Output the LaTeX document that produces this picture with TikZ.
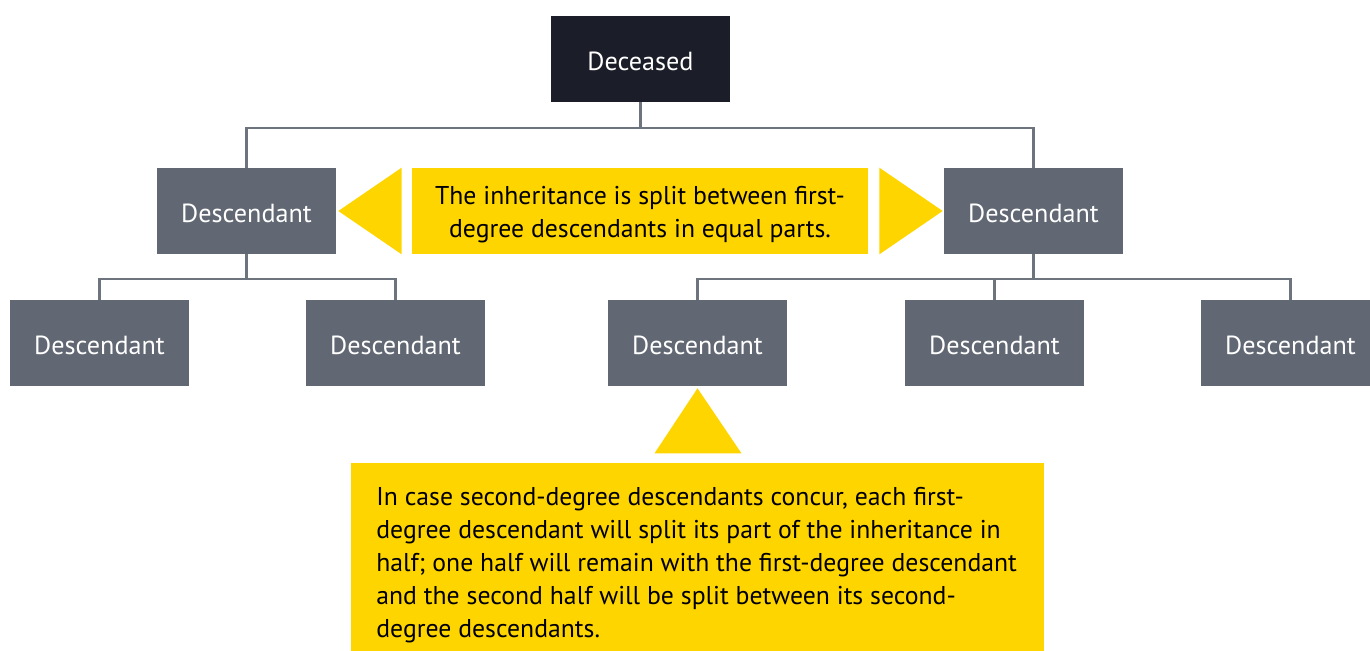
\documentclass[tikz,border=0pt]{standalone}
\usepackage{fontspec}
\setmainfont{PT Sans}
\definecolor{darkbox}{HTML}{1B1E29}
\definecolor{slate}{HTML}{616873}
\definecolor{eyyellow}{HTML}{FFD500}
\definecolor{linec}{HTML}{6E747E}
\begin{document}
\begin{tikzpicture}[x=0.02cm,y=-0.02cm,
  box/.style={fill=slate, text=white, minimum width=3.58cm, minimum height=1.72cm, inner sep=0pt, font=\fontsize{14.9}{18}\selectfont},
  boxtext/.style={text=white, inner sep=0pt, font=\fontsize{14.9}{18}\selectfont},
  conn/.style={draw=linec, line width=1.3pt},
  callout/.style={fill=eyyellow, draw=none, inner sep=0pt},
  calltext/.style={font=\fontsize{14.65}{18.7}\selectfont, text=black, inner sep=0pt}]
\useasboundingbox (0,0) rectangle (1370,651);
\begin{scope}
\clip (0,0) rectangle (1370,651);
% nodes
\node[box, fill=darkbox] (dec) at (640.5,59) {};
\node[box] (l1) at (246.5,211) {};
\node[box] (r1) at (1033.5,211) {};
\node[box] (a) at (99.5,343) {};
\node[box] (b) at (395.5,343) {};
\node[box] (c) at (697.5,343) {};
\node[box] (d) at (994.5,343) {};
\node[box] (e) at (1290.5,343) {};
\node[boxtext] (tdec) at ([yshift=-0.05cm]dec.center) {Deceased};
\node[boxtext] (tl1) at ([yshift=-0.04cm]l1.center) {Descendant};
\node[boxtext] (tr1) at ([yshift=-0.04cm]r1.center) {Descendant};
\node[boxtext] (ta) at ([yshift=-0.05cm]a.center) {Descendant};
\node[boxtext] (tb) at ([yshift=-0.05cm]b.center) {Descendant};
\node[boxtext] (tc) at ([yshift=-0.05cm]c.center) {Descendant};
\node[boxtext] (td) at ([yshift=-0.05cm]d.center) {Descendant};
\node[boxtext] (te) at ([yshift=-0.05cm]e.center) {Descendant};
% connectors
\coordinate (j0) at (640.5,128);
\coordinate (j1) at (246.5,279);
\coordinate (j2) at (1033.5,279);
\draw[conn] (dec.south) -- (j0) -| (l1.north);
\draw[conn] (j0) -| (r1.north);
\draw[conn] (l1.south) -- (j1) -| (a.north);
\draw[conn] (j1) -| (b.north);
\draw[conn] (r1.south) -- (j2) -| (c.north);
\draw[conn] (j2) -| (d.north);
\draw[conn] (j2) -| (e.north);
% top callout
\node[callout, minimum width=9.12cm, minimum height=1.72cm] (msg) at (640,211) {};
\node[calltext, align=center] (msgtext) at ([yshift=-0.07cm]msg.center)
  {The inheritance is split between first-\\degree descendants in equal parts.};
\fill[eyyellow] ([xshift=-0.2cm]msg.north west) -- ([xshift=-0.2cm]msg.south west) -- ([xshift=0.04cm]l1.east) -- cycle;
\fill[eyyellow] ([xshift=0.22cm]msg.north east) -- ([xshift=0.22cm]msg.south east) -- ([xshift=-0.02cm]r1.west) -- cycle;
% bottom callout
\node[callout, anchor=north west, minimum width=13.86cm, minimum height=4cm] (note) at (351,463) {};
\fill[eyyellow] ([yshift=-0.04cm]c.south) -- ++(-43,65) -- ++(87,0) -- cycle;
\node[calltext, align=left, anchor=west] (notetext) at (376,565)
  {In case second-degree descendants concur, each first-\\
   degree descendant will split its part of the inheritance in\\
   half; one half will remain with the first-degree descendant\\
   and the second half will be split between its second-\\
   degree descendants.};
\end{scope}
\end{tikzpicture}
\end{document}
